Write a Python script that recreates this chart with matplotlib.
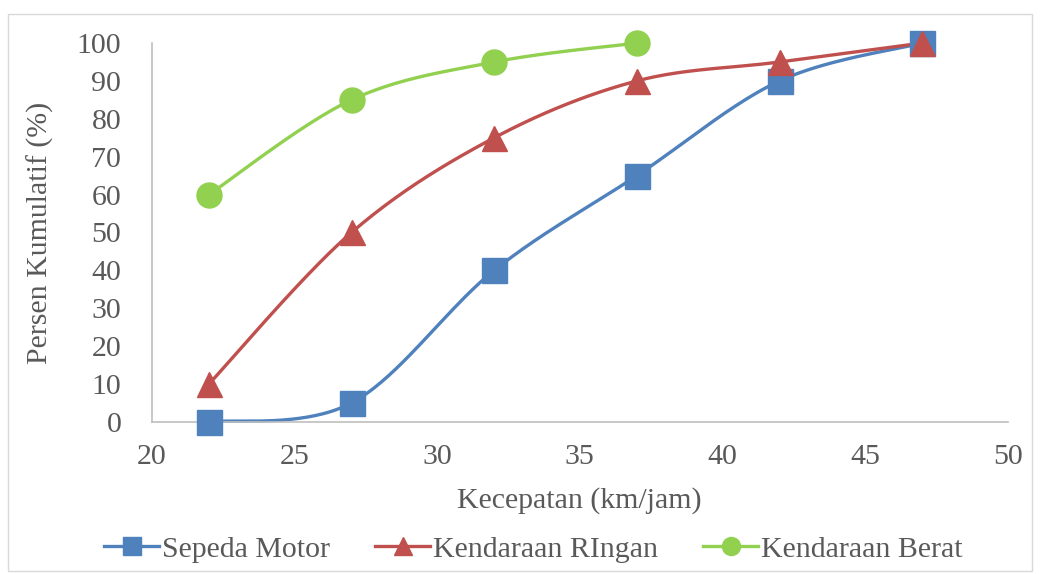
import numpy as np
import matplotlib
matplotlib.use("Agg")
import matplotlib.pyplot as plt
from matplotlib.patches import Rectangle

# data
speed_motor = [22, 27, 32, 37, 42, 47]
pct_motor = [0, 5, 40, 65, 90, 100]
speed_ringan = [22, 27, 32, 37, 42, 47]
pct_ringan = [10, 50, 75, 90, 95, 100]
speed_berat = [22, 27, 32, 37]
pct_berat = [60, 85, 95, 100]

labels = ["Sepeda Motor", "Kendaraan RIngan", "Kendaraan Berat"]
colors = ["#4F81BD", "#C0504D", "#92D050"]
markers = ["s", "^", "o"]


def smooth(x, y, n=40):
    # Excel-style smoothed line (cubic bezier through the points)
    p = np.column_stack([x, y]).astype(float)
    pts = np.vstack([p[0], p, p[-1]])
    out = []
    t = np.linspace(0, 1, n)[:, None]
    for i in range(1, len(pts) - 2):
        p0, p3 = pts[i], pts[i + 1]
        c1 = p0 + (pts[i + 1] - pts[i - 1]) / 6
        c2 = p3 - (pts[i + 2] - pts[i]) / 6
        seg = (1 - t) ** 3 * p0 + 3 * (1 - t) ** 2 * t * c1 + 3 * (1 - t) * t ** 2 * c2 + t ** 3 * p3
        out.append(seg)
    out = np.vstack(out)
    return out[:, 0], out[:, 1]


plt.rcParams["font.family"] = ["Liberation Serif", "DejaVu Serif"]
fs = 21.5

fig = plt.figure(figsize=(10.4, 5.74), dpi=100)
ax = fig.add_axes([0.146, 0.265, 0.823, 0.66])

series = [(speed_motor, pct_motor), (speed_ringan, pct_ringan), (speed_berat, pct_berat)]
for (xs, ys), lab, col, mk in zip(series, labels, colors, markers):
    sx, sy = smooth(xs, ys)
    ax.plot(sx, sy, color=col, lw=2.4, zorder=2, clip_on=False)
    ax.plot(xs, ys, linestyle="none", marker=mk, color=col, markersize=18, zorder=3, clip_on=False)
    # legend proxy
    ax.plot([], [], color=col, lw=2.4, marker=mk, markersize=13, label=lab)

ax.set_xlim(20, 50)
ax.set_ylim(0, 100)
ax.set_xticks(range(20, 51, 5))
ax.set_yticks(range(0, 101, 10))
ax.tick_params(length=0, labelsize=fs, labelcolor="#595959")
ax.tick_params(axis="x", pad=16)
ax.tick_params(axis="y", pad=22)
for s in ["top", "right"]:
    ax.spines[s].set_visible(False)
for s in ["left", "bottom"]:
    ax.spines[s].set_color("#BFBFBF")
    ax.spines[s].set_linewidth(1.2)

ax.set_xlabel("Kecepatan (km/jam)", fontsize=fs, color="#595959", labelpad=12)
ax.set_ylabel("Persen Kumulatif (%)", fontsize=fs, color="#595959", labelpad=16)

leg = ax.legend(loc="upper center", bbox_to_anchor=(0.446, -0.23), ncol=3, frameon=False,
                fontsize=fs, handlelength=1.85, handletextpad=0.1, columnspacing=1.5)
for t in leg.get_texts():
    t.set_color("#595959")

fig.patches.append(Rectangle((0.008, 0.005), 0.984, 0.97, transform=fig.transFigure,
                             fill=False, edgecolor="#D9D9D9", lw=1))

fig.savefig("out.png", dpi=100)
